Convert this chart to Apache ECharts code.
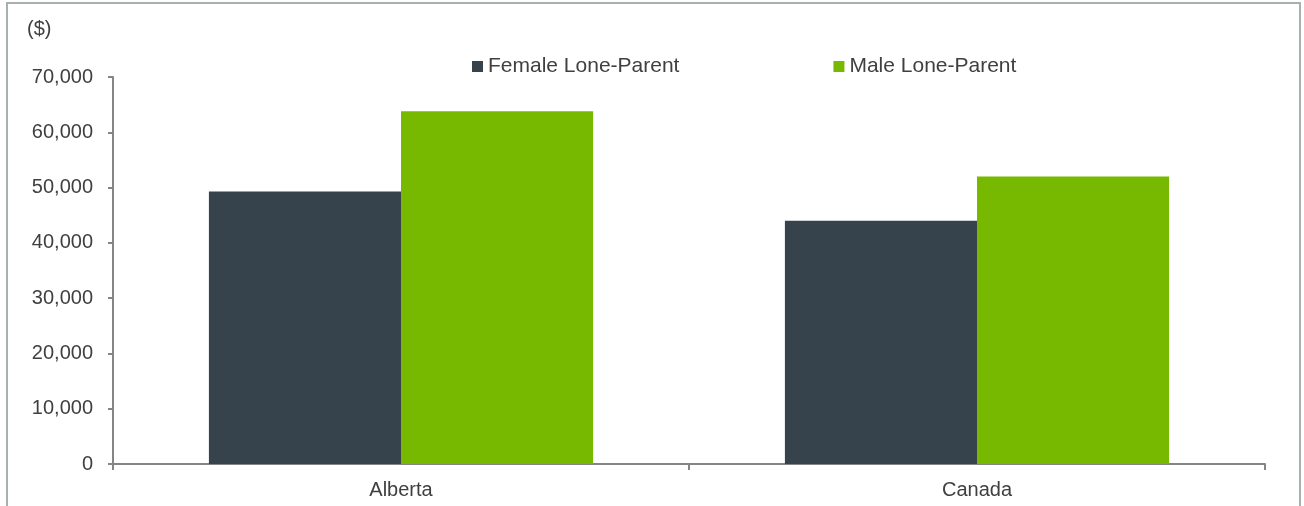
<!DOCTYPE html>
<html>
<head>
<meta charset="utf-8">
<script src="https://cdn.jsdelivr.net/npm/echarts@6/dist/echarts.min.js"></script>
<style>
html,body{margin:0;padding:0;background:#fff;}
#chart{width:1304px;height:506px;}
</style>
</head>
<body>
<div id="chart"></div>
<script>
const categories = ['Alberta', 'Canada'];
const femaleValues = [49300, 44000];
const maleValues = [63800, 52000];
const seriesNames = ['Female Lone-Parent', 'Male Lone-Parent'];
const unitLabel = '($)';

const textColor = '#404040';
const axisColor = '#858585';
const chart = echarts.init(document.getElementById('chart'));
chart.setOption({
  animation: false,
  backgroundColor: '#ffffff',
  textStyle: { fontFamily: 'Liberation Sans, Arial, sans-serif' },
  graphic: [
    {
      type: 'rect',
      shape: { x: 7, y: 3, width: 1293, height: 540 },
      style: { fill: 'none', stroke: '#a8b0b0', lineWidth: 2 },
      silent: true
    },
    {
      type: 'text',
      left: 27, top: 19,
      style: { text: unitLabel, fill: textColor, font: '20px "Liberation Sans", Arial, sans-serif' }
    }
  ],
  legend: {
    left: 467, top: 51,
    itemWidth: 11, itemHeight: 11, itemGap: 154,
    icon: 'rect',
    textStyle: { fontSize: 21, color: textColor, fontFamily: 'Liberation Sans, Arial, sans-serif' },
    data: seriesNames
  },
  grid: { left: 113, right: 39, top: 77, bottom: 42, containLabel: false },
  xAxis: {
    type: 'category',
    data: categories,
    axisLine: { lineStyle: { color: axisColor, width: 2 } },
    axisTick: { show: true, length: 6, lineStyle: { color: axisColor, width: 2 } },
    axisLabel: { color: textColor, fontSize: 20, margin: 16 }
  },
  yAxis: {
    type: 'value',
    min: 0, max: 70000, interval: 10000,
    axisLine: { show: true, lineStyle: { color: axisColor, width: 2 } },
    axisTick: { show: true, length: 5, lineStyle: { color: axisColor, width: 2 } },
    splitLine: { show: false },
    axisLabel: {
      color: textColor, fontSize: 20, margin: 20,
      formatter: v => v.toLocaleString('en-US')
    }
  },
  series: [
    {
      name: seriesNames[0], type: 'bar', data: femaleValues,
      barGap: '0%', barCategoryGap: '33.3%',
      itemStyle: { color: '#36434c' }
    },
    {
      name: seriesNames[1], type: 'bar', data: maleValues,
      barGap: '0%', barCategoryGap: '33.3%',
      itemStyle: { color: '#77b900' }
    }
  ]
});
</script>
</body>
</html>
